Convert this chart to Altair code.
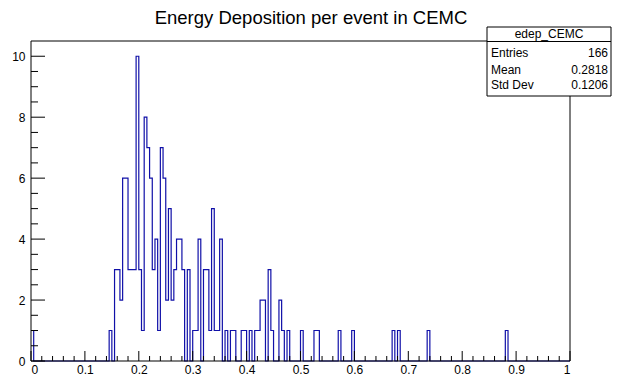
import altair as alt
import pandas as pd

# ---- texts ----
title_text = "Energy Deposition per event in CEMC"
hist_name = "edep_CEMC"
stat_names = ["Entries", "Mean", "Std Dev"]
stat_values = ["166", "0.2818", "0.1206"]

# ---- histogram: 200 bins on [0, 1]; non-empty bins (lower edge) and entries ----
n_bins = 200
x_min, x_max = 0.0, 1.0
y_max = 10.5
bin_lo = [0.000, 0.145, 0.155, 0.160, 0.165, 0.170, 0.175, 0.180, 0.185, 0.190,
          0.195, 0.200, 0.205, 0.210, 0.215, 0.220, 0.225, 0.230, 0.235, 0.240,
          0.245, 0.250, 0.255, 0.260, 0.265, 0.270, 0.275, 0.280, 0.290, 0.300,
          0.305, 0.310, 0.320, 0.325, 0.330, 0.335, 0.340, 0.345, 0.350, 0.360,
          0.370, 0.375, 0.390, 0.395, 0.405, 0.415, 0.420, 0.425, 0.430, 0.440,
          0.445, 0.460, 0.465, 0.475, 0.500, 0.525, 0.530, 0.570, 0.595, 0.670,
          0.680, 0.735, 0.880]
entries = [1, 1, 3, 3, 2, 6, 6, 3, 3, 3,
           10, 3, 1, 8, 7, 6, 3, 4, 1, 7,
           6, 2, 5, 2, 3, 4, 4, 3, 3, 1,
           1, 4, 3, 3, 1, 5, 1, 1, 4, 1,
           1, 1, 1, 1, 1, 1, 1, 2, 2, 3,
           1, 2, 1, 1, 1, 1, 1, 1, 1, 1,
           1, 1, 1]

# ---- axis ticks ----
x_major = [0.0, 0.1, 0.2, 0.3, 0.4, 0.5, 0.6, 0.7, 0.8, 0.9, 1.0]
x_minor = [0.02, 0.04, 0.06, 0.08, 0.12, 0.14, 0.16, 0.18, 0.22, 0.24, 0.26, 0.28,
           0.32, 0.34, 0.36, 0.38, 0.42, 0.44, 0.46, 0.48, 0.52, 0.54, 0.56, 0.58,
           0.62, 0.64, 0.66, 0.68, 0.72, 0.74, 0.76, 0.78, 0.82, 0.84, 0.86, 0.88,
           0.92, 0.94, 0.96, 0.98]
y_major = [0, 2, 4, 6, 8, 10]
y_minor = [0.5, 1, 1.5, 2.5, 3, 3.5, 4.5, 5, 5.5, 6.5, 7, 7.5, 8.5, 9, 9.5]

# ---- build the step table ----
bw = (x_max - x_min) / n_bins
counts = [0] * n_bins
for lo, c in zip(bin_lo, entries):
    counts[int(round((lo - x_min) / bw))] = c
edges = [x_min + k * bw for k in range(n_bins + 1)]
hist_df = pd.DataFrame({"x": edges, "y": counts + [0]})

W, H = 539, 320
FONT = "Liberation Sans"
xs = alt.Scale(domain=[x_min, x_max], nice=False, zero=False)
ys = alt.Scale(domain=[0, y_max], nice=False, zero=False)

one = pd.DataFrame({"a": [0]})

line = alt.Chart(hist_df).mark_line(
    interpolate="step-after", color="#1010a8", strokeWidth=1.2
).encode(
    x=alt.X("x:Q", scale=xs, title=None,
            axis=alt.Axis(values=x_major, format="~g", labelPadding=3)),
    y=alt.Y("y:Q", scale=ys, title=None,
            axis=alt.Axis(values=y_major, format="d", labelPadding=6)),
)

frame = alt.Chart(one).mark_rect(fillOpacity=0, stroke="black", strokeWidth=1).encode(
    x=alt.value(0), x2=alt.value(W), y=alt.value(0), y2=alt.value(H))

xmaj = alt.Chart(pd.DataFrame({"t": x_major})).mark_rule(color="black", strokeWidth=1).encode(
    x=alt.X("t:Q", scale=xs, title=None), y=alt.value(H), y2=alt.value(H - 10))
xmin_ = alt.Chart(pd.DataFrame({"t": x_minor})).mark_rule(color="black", strokeWidth=1).encode(
    x=alt.X("t:Q", scale=xs, title=None), y=alt.value(H), y2=alt.value(H - 5))
ymaj = alt.Chart(pd.DataFrame({"t": y_major})).mark_rule(color="black", strokeWidth=1).encode(
    y=alt.Y("t:Q", scale=ys, title=None), x=alt.value(0), x2=alt.value(14))
ymin_ = alt.Chart(pd.DataFrame({"t": y_minor})).mark_rule(color="black", strokeWidth=1).encode(
    y=alt.Y("t:Q", scale=ys, title=None), x=alt.value(0), x2=alt.value(7))

title = alt.Chart(one).mark_text(
    text=title_text, font=FONT, fontSize=18.5, color="black", align="center", baseline="alphabetic"
).encode(x=alt.value(280), y=alt.value(-17))

# stat box
BX0, BX1, BY0, BY1 = 456, 580, -14, 55
box = alt.Chart(one).mark_rect(fill="white", stroke="black", strokeWidth=1).encode(
    x=alt.value(BX0), x2=alt.value(BX1), y=alt.value(BY0), y2=alt.value(BY1))
sep = alt.Chart(one).mark_rule(color="black", strokeWidth=1).encode(
    x=alt.value(BX0), x2=alt.value(BX1), y=alt.value(0.5))
box_title = alt.Chart(one).mark_text(
    text=hist_name, font=FONT, fontSize=12, color="black", align="center", baseline="middle"
).encode(x=alt.value((BX0 + BX1) / 2), y=alt.value(-7))

stat_layers = []
row_y = [12, 28.5, 44]
for name, val, yy in zip(stat_names, stat_values, row_y):
    stat_layers.append(alt.Chart(one).mark_text(
        text=name, font=FONT, fontSize=12, color="black", align="left", baseline="middle"
    ).encode(x=alt.value(BX0 + 4), y=alt.value(yy)))
    stat_layers.append(alt.Chart(one).mark_text(
        text=val, font=FONT, fontSize=12, color="black", align="right", baseline="middle"
    ).encode(x=alt.value(BX1 - 3), y=alt.value(yy)))

chart = alt.layer(
    line, xmaj, xmin_, ymaj, ymin_, frame, title, box, sep, box_title, *stat_layers
).properties(
    width=W, height=H, autosize="none",
    padding={"left": 23, "top": 33, "right": 42, "bottom": 15},
    background="white",
).configure_view(
    stroke=None
).configure_axis(
    ticks=False, tickSize=0, domain=False, grid=False,
    labelFont=FONT, labelFontSize=12, labelColor="black",
)

chart.save("out.html", embed_options={"renderer": "svg", "actions": False})
